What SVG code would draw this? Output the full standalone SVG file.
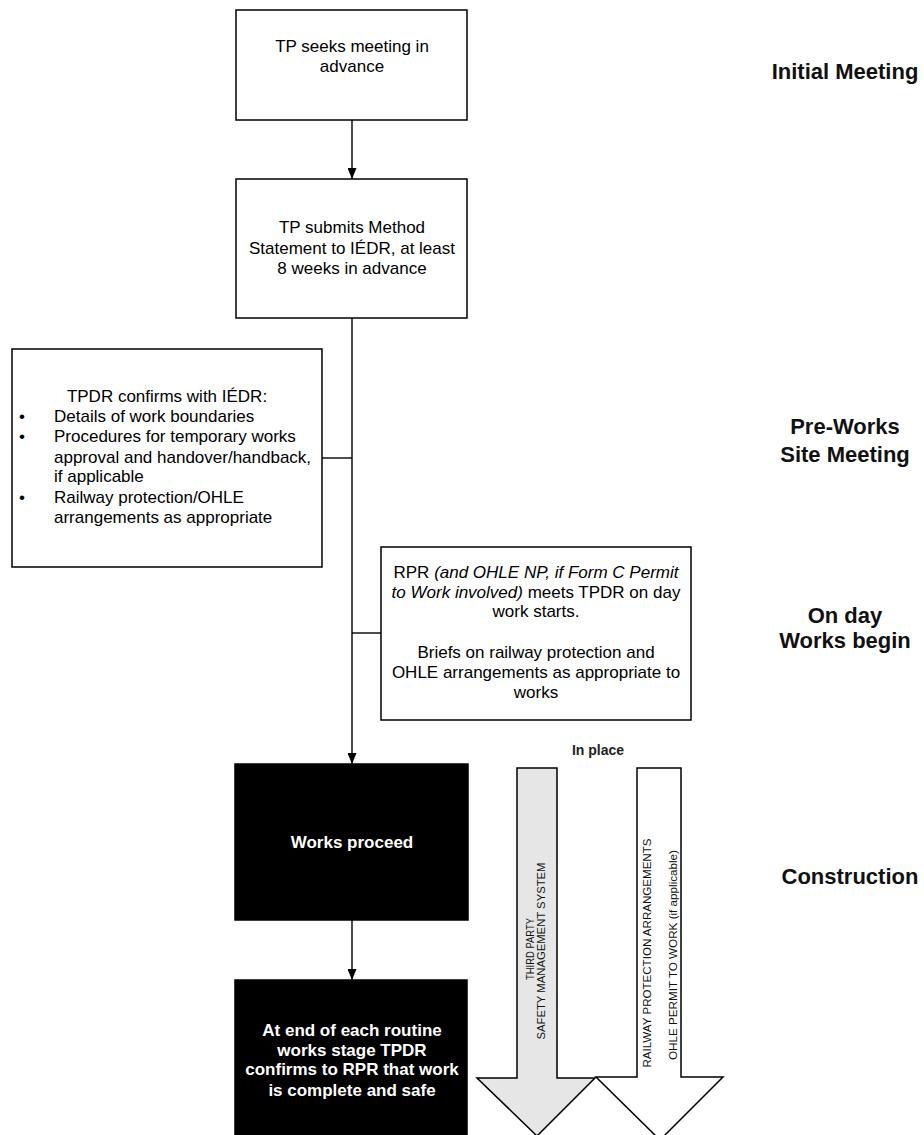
<svg xmlns="http://www.w3.org/2000/svg" width="924" height="1135" viewBox="0 0 924 1135">
<defs>
<style>
.box{fill:#fff;stroke:#000;stroke-width:1.5}
.blk{fill:#000;stroke:#000;stroke-width:1.5}
.t{font-family:"Liberation Sans",Arial,sans-serif;font-size:17px;fill:#000}
.c{text-anchor:middle}
.w{font-family:"Liberation Sans",Arial,sans-serif;font-size:17px;font-weight:bold;fill:#fff;text-anchor:middle}
.lab{font-family:"Liberation Sans",Arial,sans-serif;font-size:22px;font-weight:bold;fill:#111;text-anchor:middle}
.it{font-style:italic}
.conn{stroke:#000;stroke-width:1.4;fill:none}
.ba{stroke:#000;stroke-width:1.5}
.v{font-family:"Liberation Sans",Arial,sans-serif;font-size:11px;fill:#111;text-anchor:middle;dominant-baseline:central}
</style>
<marker id="ah" markerWidth="11" markerHeight="9" refX="11" refY="4.5" orient="auto" markerUnits="userSpaceOnUse">
<path d="M0,0 L11,4.5 L0,9 z" fill="#000"/>
</marker>
</defs>

<g id="connectors">
<line class="conn" x1="352" y1="120" x2="352" y2="179" marker-end="url(#ah)"/>
<line class="conn" x1="352" y1="318" x2="352" y2="764" marker-end="url(#ah)"/>
<line class="conn" x1="322" y1="458" x2="352" y2="458"/>
<line class="conn" x1="352" y1="633" x2="381" y2="633"/>
<line class="conn" x1="352" y1="920" x2="352" y2="980" marker-end="url(#ah)"/>
</g>

<g id="n1">
<rect class="box" x="236" y="10" width="231" height="110"/>
<text class="t c" x="352" y="52">TP seeks meeting in</text>
<text class="t c" x="352" y="72">advance</text>
</g>

<g id="n2">
<rect class="box" x="236" y="179" width="231" height="139"/>
<text class="t c" x="352" y="233">TP submits Method</text>
<text class="t c" x="352" y="254">Statement to IÉDR, at least</text>
<text class="t c" x="352" y="274">8 weeks in advance</text>
</g>

<g id="n3">
<rect class="box" x="12" y="349" width="310" height="218"/>
<text class="t c" x="167" y="402">TPDR confirms with IÉDR:</text>
<text class="t" x="19" y="422">•</text>
<text class="t" x="54" y="422">Details of work boundaries</text>
<text class="t" x="19" y="442">•</text>
<text class="t" x="54" y="442">Procedures for temporary works</text>
<text class="t" x="54" y="463">approval and handover/handback,</text>
<text class="t" x="54" y="482">if applicable</text>
<text class="t" x="19" y="503">•</text>
<text class="t" x="54" y="503">Railway protection/OHLE</text>
<text class="t" x="54" y="523">arrangements as appropriate</text>
</g>

<g id="n4">
<rect class="box" x="381" y="547" width="310" height="173"/>
<text class="t c" x="536" y="578">RPR <tspan class="it">(and OHLE NP, if Form C Permit</tspan></text>
<text class="t c" x="536" y="598"><tspan class="it">to Work involved)</tspan> meets TPDR on day</text>
<text class="t c" x="536" y="617">work starts.</text>
<text class="t c" x="536" y="658">Briefs on railway protection and</text>
<text class="t c" x="536" y="678">OHLE arrangements as appropriate to</text>
<text class="t c" x="536" y="698">works</text>
</g>

<g id="n5">
<rect class="blk" x="235" y="764" width="233" height="156"/>
<text class="w" x="352" y="848">Works proceed</text>
</g>

<g id="n6">
<rect class="blk" x="235" y="980" width="232" height="160"/>
<text class="w" x="352" y="1036">At end of each routine</text>
<text class="w" x="352" y="1056">works stage TPDR</text>
<text class="w" x="352" y="1075">confirms to RPR that work</text>
<text class="w" x="352" y="1096">is complete and safe</text>
</g>

<g id="inplace">
<text class="t" x="598" y="755" text-anchor="middle" style="font-size:14px;font-weight:bold;fill:#222">In place</text>
</g>

<g id="arrow-sms">
<polygon class="ba" fill="#e6e6e6" points="517,768 557,768 557,1078 595,1078 537,1136 477,1078 517,1078"/>
<text class="v" transform="translate(530,949) rotate(-90)" textLength="62" lengthAdjust="spacingAndGlyphs">THIRD PARTY</text>
<text class="v" transform="translate(541,951) rotate(-90)" textLength="177" lengthAdjust="spacingAndGlyphs">SAFETY MANAGEMENT SYSTEM</text>
</g>

<g id="arrow-rp">
<polygon class="ba" fill="#fff" points="637,768 681,768 681,1077 723,1077 660,1140 596,1077 637,1077"/>
<text class="v" transform="translate(647,953) rotate(-90)" textLength="229" lengthAdjust="spacingAndGlyphs">RAILWAY PROTECTION ARRANGEMENTS</text>
<text class="v" transform="translate(673,955) rotate(-90)" textLength="210" lengthAdjust="spacingAndGlyphs">OHLE PERMIT TO WORK (if applicable)</text>
</g>

<g id="labels">
<text class="lab" x="845" y="79">Initial Meeting</text>
<text class="lab" x="845" y="434">Pre-Works</text>
<text class="lab" x="845" y="462">Site Meeting</text>
<text class="lab" x="845" y="623">On day</text>
<text class="lab" x="845" y="648">Works begin</text>
<text class="lab" x="850" y="884">Construction</text>
</g>
</svg>
